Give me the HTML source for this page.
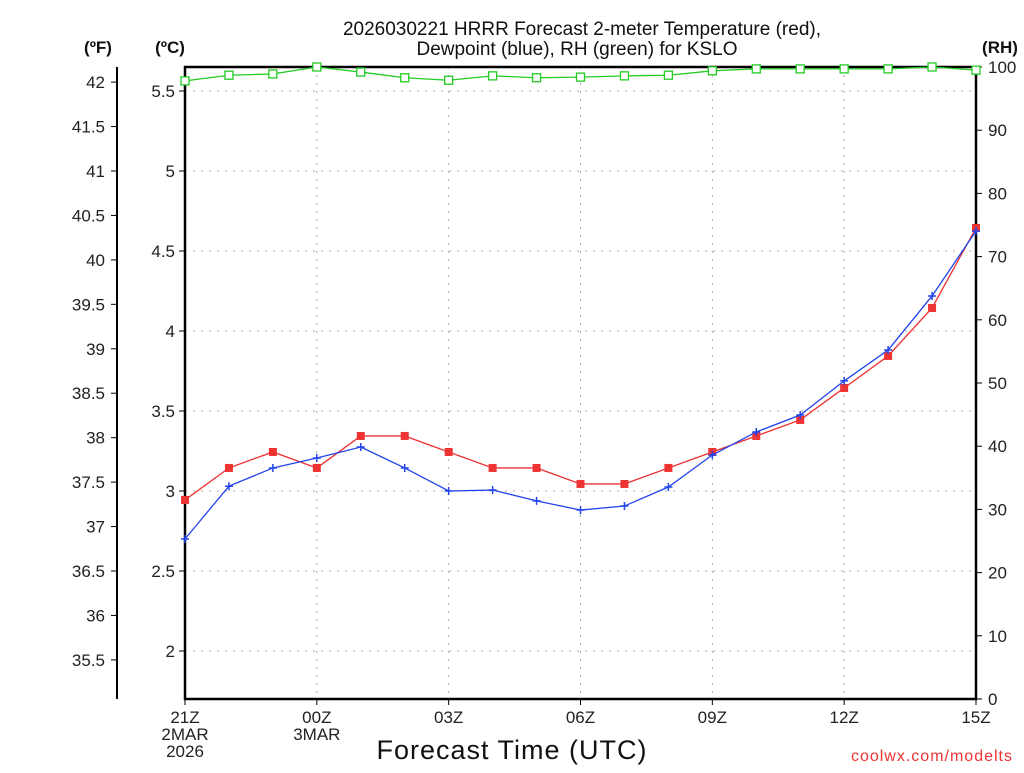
<!DOCTYPE html>
<html><head><meta charset="utf-8"><style>
body{margin:0;background:#fff;width:1024px;height:768px;overflow:hidden}
svg text{font-family:"Liberation Sans",sans-serif}
</style></head><body>
<svg id="c" width="1024" height="768">
<g id="g"></g>
<text x="582" y="35" text-anchor="middle" font-size="19" fill="#111">2026030221 HRRR Forecast 2-meter Temperature (red),</text>
<text x="577" y="55" text-anchor="middle" font-size="19" fill="#111">Dewpoint (blue), RH (green) for KSLO</text>
<text x="98" y="53" text-anchor="middle" font-size="17" font-weight="bold" fill="#111">(ºF)</text>
<text x="170" y="53" text-anchor="middle" font-size="17" font-weight="bold" fill="#111">(ºC)</text>
<text x="1000" y="53" text-anchor="middle" font-size="17" font-weight="bold" fill="#111">(RH)</text>
<text x="512" y="759" text-anchor="middle" font-size="27" fill="#111" letter-spacing="1">Forecast Time (UTC)</text>
<text x="1013" y="761" text-anchor="end" font-size="16" fill="#ee3333" letter-spacing="1">coolwx.com/modelts</text>
</svg>
<script>
const hours=[0,1,2,3,4,5,6,7,8,9,10,11,12,13,14,15,16,17,18];
const tempC=[2.944,3.144,3.244,3.144,3.344,3.344,3.244,3.144,3.144,3.044,3.044,3.144,3.244,3.344,3.444,3.644,3.844,4.144,4.644];
const dewC=[2.70,3.03,3.144,3.206,3.275,3.144,3.0,3.006,2.938,2.881,2.906,3.025,3.225,3.369,3.475,3.688,3.881,4.219,4.625];
const rh=[97.8,98.7,98.9,100,99.2,98.3,97.9,98.6,98.3,98.4,98.6,98.7,99.4,99.7,99.7,99.7,99.7,100,99.5];
const cTicks=[2,2.5,3,3.5,4,4.5,5,5.5];
const fTicks=[35.5,36,36.5,37,37.5,38,38.5,39,39.5,40,40.5,41,41.5,42];
const rhTicks=[0,10,20,30,40,50,60,70,80,90,100];
const xLabels=[[0,"21Z","2MAR","2026"],[3,"00Z","3MAR"],[6,"03Z"],[9,"06Z"],[12,"09Z"],[15,"12Z"],[18,"15Z"]];
const L=185,R=976,T=67,B=699;
const X=h=>L+h*(R-L)/18;
const YC=c=>91+(5.5-c)*160;
const YF=f=>YC((f-32)*5/9);
const YR=r=>B-r*(B-T)/100;
const g=document.getElementById('g');const NS="http://www.w3.org/2000/svg";
function el(t,a,txt){const e=document.createElementNS(NS,t);for(const k in a)e.setAttribute(k,a[k]);if(txt!==undefined)e.textContent=txt;g.appendChild(e);return e;}
cTicks.forEach(c=>{const e=el('line',{x1:L,x2:R,y1:YC(c),y2:YC(c),stroke:'#aaa','stroke-dasharray':'2,6'});


const t=el('text',{x:175,y:YC(c)+6,'text-anchor':'end','font-size':17,fill:'#222'},String(c));


el('line',{x1:L-6,x2:L,y1:YC(c),y2:YC(c),stroke:'#000'});});
for(let h=3;h<18;h+=3){const e=el('line',{x1:X(h),x2:X(h),y1:T,y2:B,stroke:'#aaa','stroke-dasharray':'2,6'});

}
fTicks.forEach(f=>{el('line',{x1:111,x2:117,y1:YF(f),y2:YF(f),stroke:'#000'});
const t=el('text',{x:105,y:YF(f)+6,'text-anchor':'end','font-size':17,fill:'#222'},String(f));

});
rhTicks.forEach(r=>{el('line',{x1:R,x2:R+6,y1:YR(r),y2:YR(r),stroke:'#000'});
const t=el('text',{x:988,y:YR(r)+6,'font-size':17,fill:'#222'},String(r));

});
xLabels.forEach(a=>{const x=X(a[0]);el('line',{x1:x,x2:x,y1:B,y2:B+6,stroke:'#000'});
a.slice(1).forEach((s,i)=>{const t=el('text',{x:x,y:723+i*17,'text-anchor':'middle','font-size':17,fill:'#222'},s);

});});
const ax=el('line',{x1:117,x2:117,y1:67,y2:699,stroke:'#000','stroke-width':2});


const fr=el('rect',{x:L,y:T,width:R-L,height:B-T,fill:'none',stroke:'#000','stroke-width':2.5});


function series(vals,Y,col,name,marker){
const p=el('polyline',{points:vals.map((v,i)=>X(hours[i])+','+Y(v)).join(' '),fill:'none',stroke:col,'stroke-width':1.3});


vals.forEach((v,i)=>{const x=X(hours[i]),y=Y(v);let m;
if(marker==='fill')m=el('rect',{x:x-4,y:y-4,width:8,height:8,fill:col});
else if(marker==='open')m=el('rect',{x:x-4,y:y-4,width:8,height:8,fill:'#fff',stroke:col,'stroke-width':1.3});
else m=el('path',{d:`M${x-4},${y}H${x+4}M${x},${y-4}V${y+4}`,stroke:col,'stroke-width':1.5});

});}
series(rh,YR,'#22cc22','rh','open');
series(tempC,YC,'#ee3333','temperature','fill');
series(dewC,YC,'#2244ee','dewpoint','plus');
</script>
</body></html>
